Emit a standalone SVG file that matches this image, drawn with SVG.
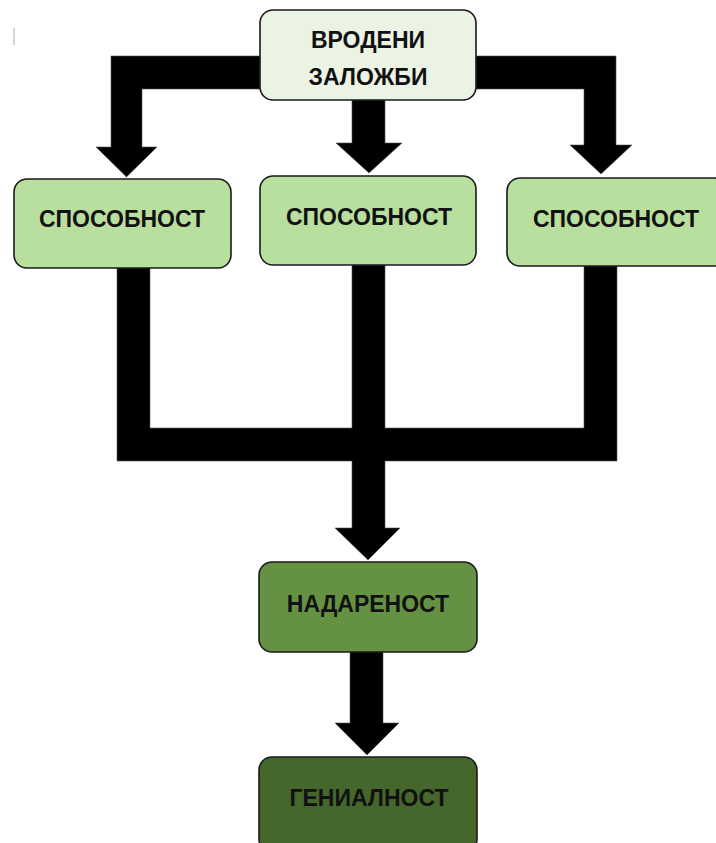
<svg xmlns="http://www.w3.org/2000/svg" width="716" height="843" viewBox="0 0 716 843">
<style>
.box{stroke:#1a1a1a;stroke-width:1.6}
.lbl{font-family:"Liberation Sans",Arial,sans-serif;font-weight:bold;font-size:23px;fill:#111;text-anchor:middle}
.conn{fill:#000;stroke:#555;stroke-width:0.6}
</style>
<rect width="716" height="843" fill="#fff"/>
<line x1="14" y1="28" x2="14" y2="45" stroke="#c8c8c8" stroke-width="1.5"/>
<g id="connectors">
<polygon class="conn" points="260,56 111,56 111,147 96,147 126.5,177 157,147 142,147 142,89 260,89"/>
<polygon class="conn" points="352,100 352,143 336,143 369,173 402,143 385,143 385,100"/>
<polygon class="conn" points="476,56 616,56 616,145 632,145 601,174 570,145 584,145 584,89 476,89"/>
<polygon class="conn" points="117,268 150,268 150,428 352,428 352,265 385,265 385,428 584,428 584,266 617,266 617,461 385,461 385,528 400,528 368,560 335,528 352,528 352,461 117,461"/>
<polygon class="conn" points="350,652 350,723 335,723 367,755 399,723 383,723 383,652"/>
</g>
<g id="node-vrodeni">
<rect class="box" x="260" y="10" width="216" height="90" rx="13" fill="#ebf3e4"/>
<text class="lbl" x="368" y="48">ВРОДЕНИ</text>
<text class="lbl" x="368" y="85">ЗАЛОЖБИ</text>
</g>
<g id="node-sposobnost-1">
<rect class="box" x="14" y="179" width="217" height="89" rx="13" fill="#b9df9f"/>
<text class="lbl" x="122" y="227">СПОСОБНОСТ</text>
</g>
<g id="node-sposobnost-2">
<rect class="box" x="260" y="176" width="216" height="89" rx="13" fill="#b9df9f"/>
<text class="lbl" x="369" y="225">СПОСОБНОСТ</text>
</g>
<g id="node-sposobnost-3">
<rect class="box" x="507" y="178" width="220" height="88" rx="13" fill="#b9df9f"/>
<text class="lbl" x="616" y="227">СПОСОБНОСТ</text>
</g>
<g id="node-nadarenost">
<rect class="box" x="259" y="562" width="218" height="90" rx="13" fill="#659242"/>
<text class="lbl" x="368" y="612">НАДАРЕНОСТ</text>
</g>
<g id="node-genialnost">
<rect class="box" x="259" y="757" width="218" height="95" rx="13" fill="#45672b"/>
<text class="lbl" x="369" y="806">ГЕНИАЛНОСТ</text>
</g>
</svg>
